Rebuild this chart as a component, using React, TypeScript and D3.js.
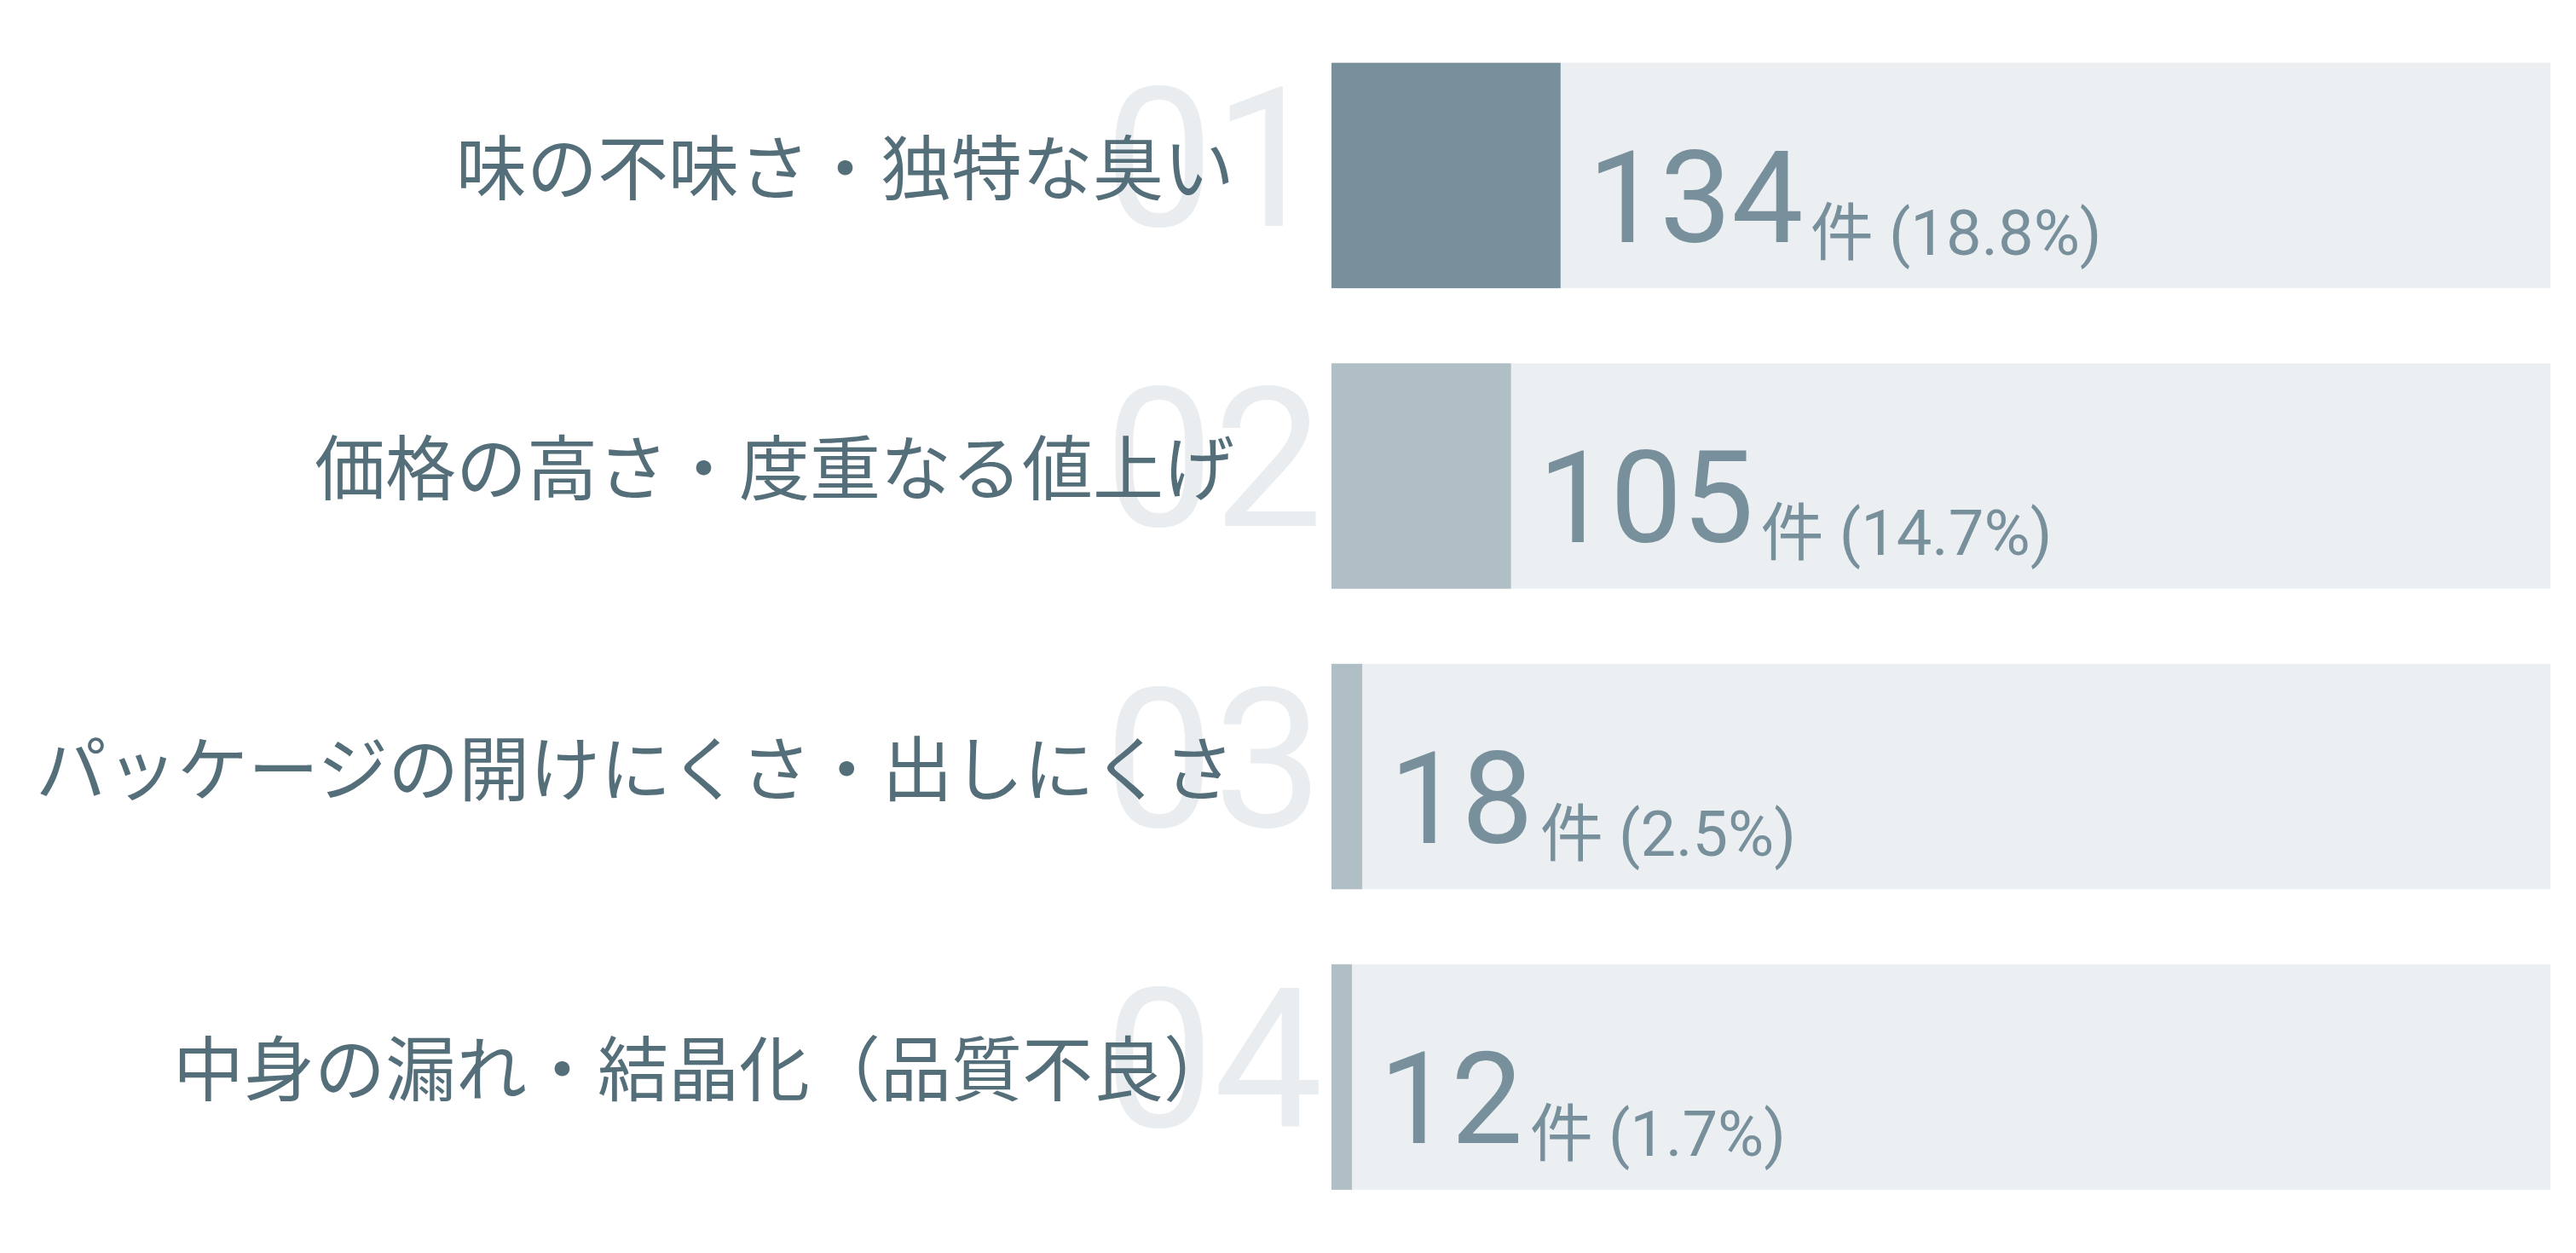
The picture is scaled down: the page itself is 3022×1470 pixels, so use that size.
import React from 'react';
import * as d3 from 'd3';

const categories = [
  '味の不味さ・独特な臭い',
  '価格の高さ・度重なる値上げ',
  'パッケージの開けにくさ・出しにくさ',
  '中身の漏れ・結晶化（品質不良）',
];
const counts = [134, 105, 18, 12];
const totalResponses = 713;
const rankLabels = ['01', '02', '03', '04'];
const countUnit = '件';

const W = 3022;
const H = 1470;

export default function App() {
  const y = d3
    .scaleBand<string>()
    .domain(categories)
    .range([73.7, 1395.8])
    .paddingInner(0.25)
    .paddingOuter(0);
  const x = d3.scaleLinear().domain([0, 100]).range([1562, 2992]);
  const fmt = d3.format('.1f');
  const bh = y.bandwidth();

  return (
    <svg
      width={W}
      height={H}
      viewBox={`0 0 ${W} ${H}`}
      style={{ position: 'absolute', left: 0, top: 0, display: 'block', background: '#fff' }}
    >
      {categories.map((c, i) => {
        const top = y(c)!;
        const pct = (counts[i] / totalResponses) * 100;
        const xEnd = x(pct);
        return (
          <g key={c}>
            <text
              x={1552}
              y={top + 191}
              textAnchor="end"
              fontFamily="Roboto, 'Noto Sans', sans-serif"
              fontWeight={400}
              fontSize={228}
              fill="#E9EDF0"
            >
              {rankLabels[i]}
            </text>
            <rect x={x(0)} y={top} width={x(100) - x(0)} height={bh} fill="#ECEFF1" />
            <rect x={x(0)} y={top} width={xEnd - x(0)} height={bh} fill={i === 0 ? '#78909C' : '#B0BEC5'} />
            <text
              x={1448}
              y={top + 154}
              textAnchor="end"
              fontFamily="'Noto Sans CJK JP', sans-serif"
              fontSize={83}
              fill="#546E7A"
            >
              {c}
            </text>
            <text
              x={xEnd + 32}
              y={top + 210}
              fontFamily="Roboto, 'Noto Sans CJK JP', sans-serif"
              fill="#78909C"
            >
              <tspan fontSize={150}>{counts[i]}</tspan>
              <tspan fontSize={74} dx={8} dy={15}>
                {countUnit} ({fmt(pct)}%)
              </tspan>
            </text>
          </g>
        );
      })}
    </svg>
  );
}
